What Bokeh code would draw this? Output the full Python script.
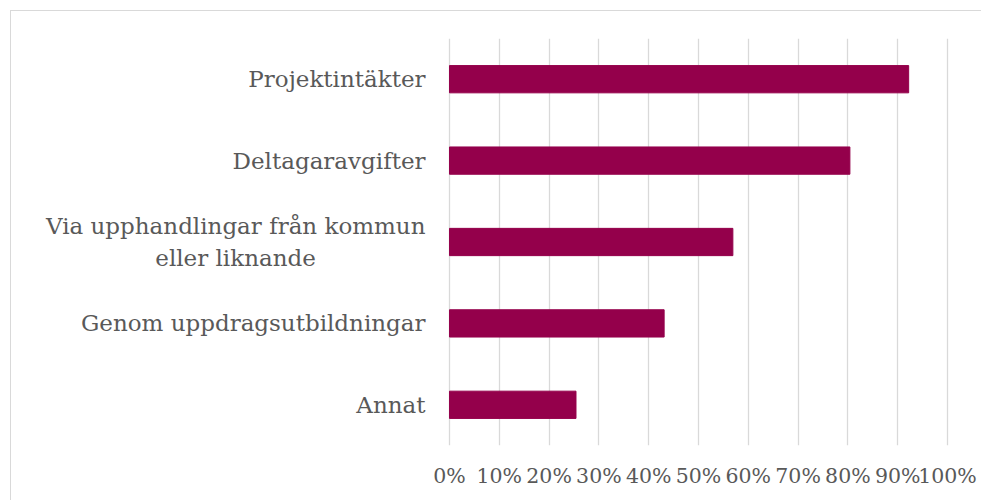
from bokeh.plotting import figure
from bokeh.layouts import column
from bokeh.models import Range1d, FixedTicker
from bokeh.embed import file_html
from bokeh.resources import INLINE

categories = ["Projektintäkter", "Deltagaravgifter",
              "Via upphandlingar från kommun\neller liknande",
              "Genom uppdragsutbildningar", "Annat"]
values = [92.2, 80.4, 56.9, 43.1, 25.4]
tick_values = [0, 10, 20, 30, 40, 50, 60, 70, 80, 90, 100]
tick_labels = {v: f"{v}%" for v in tick_values}

FONT = "DejaVu Serif"
TEXT = "#595959"
BAR = "#94004B"
GRID = "#D9D9D9"


def centered(label, pad=15):
    # centre the second line of a two-line label under the first one
    lines = label.split("\n")
    if len(lines) == 1:
        return label
    return lines[0] + "\n" + lines[1] + "\u00a0" * pad


n = len(categories)
ypos = list(range(n))

p = figure(width=970, height=489, output_backend="svg", toolbar_location=None,
           x_range=Range1d(-0.4, 100.4), y_range=Range1d(n - 0.5, -0.5),
           min_border_left=436, min_border_right=32, min_border_top=27,
           min_border_bottom=55)
p.outline_line_color = None
p.background_fill_color = "white"
p.border_fill_color = "white"

p.hbar(y=ypos, right=values, left=0, height=0.335, fill_color=BAR, line_color=BAR)

p.ygrid.grid_line_color = None
p.xgrid.grid_line_color = GRID
p.xgrid.grid_line_width = 1.3
p.xaxis.ticker = FixedTicker(ticks=tick_values)
p.xgrid.ticker = FixedTicker(ticks=tick_values)
p.xaxis.major_label_overrides = tick_labels
p.yaxis.ticker = FixedTicker(ticks=ypos)
p.yaxis.major_label_overrides = {y: centered(c) for y, c in zip(ypos, categories)}
for ax in (p.xaxis, p.yaxis):
    ax.axis_line_color = None
    ax.major_tick_line_color = None
    ax.minor_tick_line_color = None
    ax.major_label_text_font = FONT
    ax.major_label_text_color = TEXT
p.xaxis.major_label_text_font_size = "20.5px"
p.yaxis.major_label_text_font_size = "23px"
p.xaxis.major_label_standoff = 12
p.yaxis.major_label_standoff = 16

layout = column(p, styles={"border-top": "1px solid #D9D9D9",
                           "border-left": "1px solid #D9D9D9",
                           "margin-left": "10px", "margin-top": "10px"})

open("out.html", "w").write(file_html(layout, INLINE))
